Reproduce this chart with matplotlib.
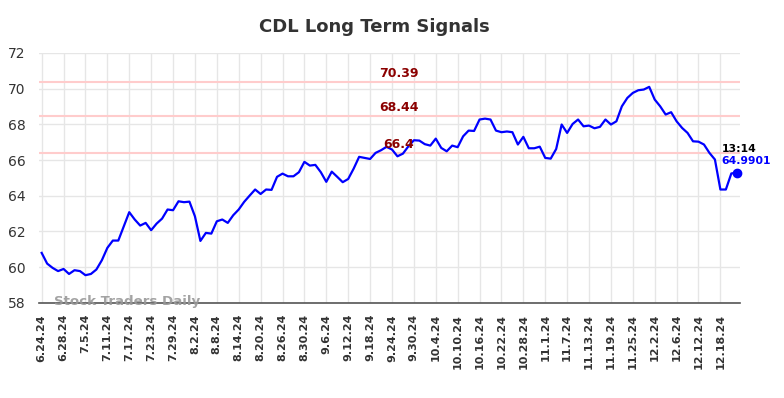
import matplotlib
matplotlib.use('Agg')
import matplotlib.pyplot as plt

# 종가 데이터 (거래일 기준)
prices = [
    60.80, 60.20, 59.96, 59.78, 59.90, 59.62, 59.83, 59.78, 59.55, 59.62,
    59.87, 60.39, 61.08, 61.49, 61.49, 62.29, 63.08, 62.67, 62.33, 62.48,
    62.07, 62.44, 62.72, 63.23, 63.19, 63.69, 63.64, 63.67, 62.85, 61.47,
    61.92, 61.88, 62.57, 62.67, 62.48, 62.91, 63.23, 63.66, 64.01, 64.35,
    64.10, 64.35, 64.33, 65.06, 65.24, 65.09, 65.09, 65.32, 65.90, 65.69,
    65.73, 65.32, 64.78, 65.35, 65.06, 64.76, 64.94, 65.52, 66.18, 66.12,
    66.06, 66.40, 66.55, 66.74, 66.59, 66.21, 66.36, 66.77, 67.11, 67.09,
    66.89, 66.81, 67.20, 66.68, 66.49, 66.81, 66.72, 67.33, 67.65, 67.63,
    68.27, 68.32, 68.27, 67.65, 67.56, 67.60, 67.56, 66.87, 67.30, 66.66,
    66.66, 66.75, 66.12, 66.08, 66.62, 67.99, 67.52, 68.02, 68.27, 67.89,
    67.93, 67.78, 67.86, 68.27, 67.99, 68.17, 69.01, 69.48, 69.76, 69.91,
    69.95, 70.10, 69.39, 69.01, 68.55, 68.68, 68.17, 67.80, 67.52, 67.05,
    67.03, 66.87, 66.40, 66.03, 64.35, 64.35, 65.25, 65.29,
]

date_labels = ['6.24.24', '6.28.24', '7.5.24', '7.11.24', '7.17.24', '7.23.24',
               '7.29.24', '8.2.24', '8.8.24', '8.14.24', '8.20.24', '8.26.24',
               '8.30.24', '9.6.24', '9.12.24', '9.18.24', '9.24.24', '9.30.24',
               '10.4.24', '10.10.24', '10.16.24', '10.22.24', '10.28.24', '11.1.24',
               '11.7.24', '11.13.24', '11.19.24', '11.25.24', '12.2.24', '12.6.24',
               '12.12.24', '12.18.24']
label_step = 4

signal_levels = [70.39, 68.44, 66.4]
signal_texts = ['70.39', '68.44', '66.4']

last_time = '13:14'
last_text = '64.9901'

fig = plt.figure(figsize=(7.84, 3.98), dpi=100)
ax = fig.add_axes([0.05, 0.239, 0.894, 0.628])

x = list(range(len(prices)))
ax.plot(x, prices, color='#0000ff', linewidth=1.6, zorder=3)
ax.plot(x[-1], prices[-1], 'o', color='#0000ff', markersize=6, zorder=4, clip_on=False)

# 신호선
for lvl, txt in zip(signal_levels, signal_texts):
    ax.axhline(lvl, color='#ffcccc', linewidth=1.5, zorder=2)
    ax.text(65.2, lvl + 0.12, txt, color='#8b0000', fontsize=9, fontweight='bold',
            ha='center', va='bottom', zorder=5)

ax.text(x[-1] - 2.8, prices[-1] + 1.34, last_time, color='black', fontsize=7.8,
        fontweight='bold', ha='left', va='center')
ax.text(x[-1] - 2.8, prices[-1] + 0.67, last_text, color='#0000ff', fontsize=7.8,
        fontweight='bold', ha='left', va='center')

ax.set_xlim(-0.45, 127.6)
ax.set_ylim(58, 72)
ax.set_yticks(range(58, 73, 2))
ax.set_xticks(range(0, len(date_labels) * label_step, label_step))
ax.set_xticklabels(date_labels, rotation=90, fontsize=8, fontweight='bold', color='#333333')
ax.tick_params(axis='y', labelsize=10, labelcolor='#333333', length=0, pad=10)
ax.tick_params(axis='x', length=0, pad=8)
ax.grid(True, color='#e6e6e6', linewidth=1)
ax.set_axisbelow(True)
for s in ['top', 'right', 'left']:
    ax.spines[s].set_visible(False)
ax.spines['bottom'].set_color('#555555')
ax.spines['bottom'].set_linewidth(1.2)

ax.text(2.2, 58.05, 'Stock Traders Daily', color='#999999', fontsize=9.6,
        fontweight='bold', ha='left', va='center', alpha=0.9, zorder=6)

fig.text(0.478, 0.932, 'CDL Long Term Signals', fontsize=13, fontweight='bold',
         color='#333333', ha='center', va='center')

fig.savefig('out.png', dpi=100)
